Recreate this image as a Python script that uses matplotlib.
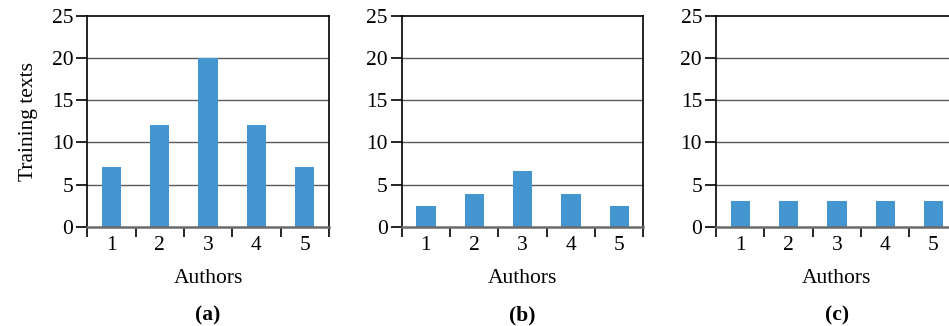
import matplotlib
matplotlib.use("Agg")
import matplotlib.pyplot as plt
import numpy as np

authors = [1, 2, 3, 4, 5]
texts_a = [7.1, 12.1, 20.0, 12.1, 7.1]
texts_b = [2.5, 3.9, 6.6, 3.9, 2.5]
texts_c = [3.0, 3.0, 3.0, 3.0, 3.0]
panel_labels = ["(a)", "(b)", "(c)"]
yticks = [0, 5, 10, 15, 20, 25]

plt.rcParams['font.family'] = ['Liberation Serif', 'DejaVu Serif']
fs = 15.5
bar_color = "#4496D0"

fig = plt.figure(figsize=(9.49, 3.26), dpi=100)
lefts = [87.3 / 949, 401.7 / 949, 716 / 949]
w = 241.7 / 949
bottom = (326 - 226.7) / 326
h = (226.7 - 16) / 326

for i, (vals, lab) in enumerate(zip([texts_a, texts_b, texts_c], panel_labels)):
    ax = fig.add_axes([lefts[i], bottom, w, h])
    ax.set_xlim(0.5, 5.5)
    ax.set_ylim(0, 25)
    for y in [5, 10, 15, 20]:
        ax.axhline(y, color="#5a5a5a", lw=1.0, zorder=0)
    ax.axhline(25, color="black", lw=1.2, zorder=3, clip_on=False)
    ax.bar(authors, vals, width=0.4, color=bar_color, zorder=2)
    ax.spines["top"].set_visible(False)
    ax.spines["left"].set_color("black")
    ax.spines["right"].set_color("black")
    ax.spines["left"].set_linewidth(1.2)
    ax.spines["right"].set_linewidth(1.2)
    ax.spines["bottom"].set_color("#6a6a6a")
    ax.spines["bottom"].set_linewidth(1.8)
    ax.set_yticks(yticks)
    ax.set_yticklabels([str(t) for t in yticks], fontsize=fs)
    ax.set_xticks(authors)
    ax.set_xticklabels([str(a) for a in authors], fontsize=fs)
    ax.tick_params(axis="x", length=0, pad=7)
    ax.set_xticks(np.arange(0.5, 6.0, 1.0), minor=True)
    ax.tick_params(axis="x", which="minor", length=7, width=1.2, color="black", direction="out")
    ax.tick_params(axis="y", length=8, width=1.2, color="black", direction="out", pad=2)
    ax.set_xlabel("Authors", fontsize=fs, labelpad=10)
    if i == 0:
        ax.set_ylabel("Training texts", fontsize=fs, labelpad=10)
    ax.text(0.5, -0.42, lab, transform=ax.transAxes, ha="center", va="center",
            fontsize=fs, fontweight="bold")

fig.savefig("out.png", dpi=100)
